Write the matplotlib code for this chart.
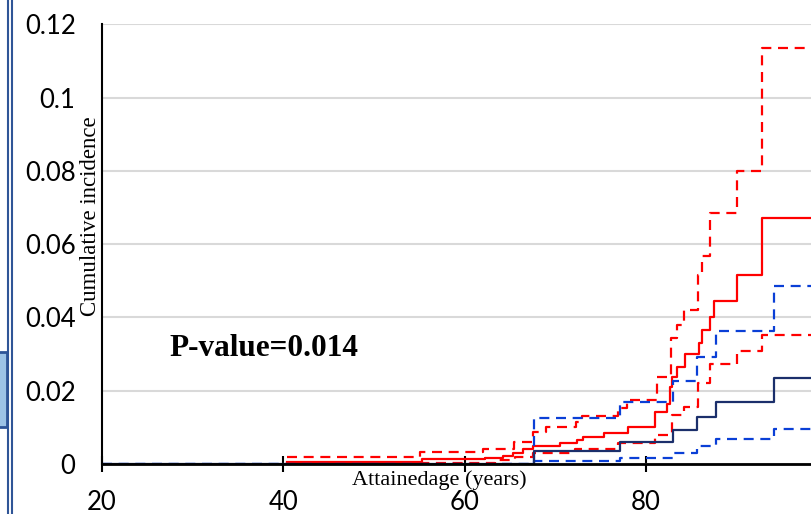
import matplotlib.pyplot as plt
from matplotlib.lines import Line2D
from matplotlib.patches import Rectangle

# red group: estimate and 95% limits
red_age = [40.4, 55.3, 62.25, 64.2, 65.3, 66.45, 67.55, 70.5, 72.4, 73.06, 75.4, 78.0,
           81.0, 82.3, 82.7, 82.9, 83.4, 84.3, 85.9, 86.15, 87.07, 87.55, 90.08, 92.77]
red_est = [0.0006, 0.0013, 0.0017, 0.0022, 0.0031, 0.0040, 0.0049, 0.0056, 0.0065, 0.0074, 0.0084, 0.0100,
           0.0141, 0.0164, 0.0211, 0.0237, 0.0264, 0.0300, 0.0330, 0.0365, 0.0402, 0.0445, 0.0517, 0.0672]

red_hi_age = [40.4, 55.1, 62.0, 65.4, 67.55, 69.0, 72.3, 73.0, 76.95, 77.9, 81.2,
              82.8, 83.4, 84.2, 85.8, 86.15, 87.07, 90.08, 92.77]
red_hi = [0.0020, 0.0032, 0.0041, 0.0060, 0.0088, 0.0102, 0.0115, 0.0130, 0.0152, 0.0175, 0.0238,
          0.0343, 0.0379, 0.0420, 0.0515, 0.0568, 0.0684, 0.0800, 0.1134]

red_lo_age = [40.4, 55.2, 63.35, 65.55, 67.55, 72.2, 76.95, 81.0, 82.84, 84.2, 85.75, 87.07, 90.08, 92.77]
red_lo = [0.0, 0.0003, 0.0011, 0.0020, 0.0029, 0.0041, 0.0056, 0.0080, 0.0135, 0.0156, 0.0222,
          0.0272, 0.0308, 0.0352]

# blue group: estimate and 95% limits (same event times)
blue_age = [20, 67.66, 77.14, 82.95, 85.6, 87.73, 94.13]
blue_est = [0, 0.0035, 0.0060, 0.0093, 0.0129, 0.0170, 0.0234]
blue_hi = [0, 0.0125, 0.0168, 0.0227, 0.0293, 0.0364, 0.0486]
blue_lo = [0, 0.0008, 0.0016, 0.0030, 0.0048, 0.0067, 0.0095]

x_end = 100
red = '#FF0000'
blue = '#0A3FD6'
navy = '#1B2F6B'
dash = (0, (4.5, 3))

fig = plt.figure(figsize=(8.12, 5.14), dpi=100)
ax = fig.add_axes([102/812, 50/514, 1 - 102/812, (464 - 24.3)/514])


def stair(xs, ys, **kw):
    ax.step(list(xs) + [x_end], list(ys) + [ys[-1]], where='post', lw=1.6, **kw)


stair(blue_age, blue_lo, color=blue, ls=dash)
stair(red_age, red_est, color=red)
stair(red_hi_age, red_hi, color=red, ls=dash)
stair(red_lo_age, red_lo, color=red, ls=dash)
stair(blue_age, blue_hi, color=blue, ls=dash)
stair(blue_age, blue_est, color=navy)

ax.set_xlim(20, 20 + 710/9.065)
ax.set_ylim(0, 0.12)
ax.set_xticks([20, 40, 60, 80])
ax.set_yticks([0, 0.02, 0.04, 0.06, 0.08, 0.1, 0.12])
ax.set_yticklabels(['0', '0.02', '0.04', '0.06', '0.08', '0.1', '0.12'])
ax.grid(True, axis='y', color='#D9D9D9', lw=1.5)
ax.set_axisbelow(True)
for s in ['top', 'right']:
    ax.spines[s].set_visible(False)
ax.spines['left'].set_linewidth(1.5)
ax.spines['bottom'].set_linewidth(2)
ax.tick_params(axis='x', direction='inout', length=12, width=1.5, pad=13)
ax.tick_params(axis='y', length=0, pad=19)
for lab in ax.get_xticklabels() + ax.get_yticklabels():
    lab.set_fontfamily('Lato')
    lab.set_fontsize(18.5)

fig.text(91/812, 1 - 216/514, 'Cumulative incidence', rotation=90, ha='center', va='center',
         family='Liberation Serif', fontsize=16.5)
fig.text(439/812, 1 - 480/514, 'Attainedage (years)', ha='center', va='center',
         family='Liberation Serif', fontsize=16)
fig.text(264/812, 1 - 349/514, 'P-value=0.014', ha='center', va='center',
         family='Liberation Serif', fontsize=22.5, fontweight='bold')

# slide frame remnants at the left edge
fig.add_artist(Line2D([8/812, 8/812], [0, 1], color='#2F5597', lw=1.5))
fig.add_artist(Line2D([12.5/812, 12.5/812], [0, 1], color='#2F5597', lw=1.5))
fig.add_artist(Rectangle((-0.01, 1 - 427/514), 0.01 + 7/812, 75/514, facecolor='#9DC3E6',
                         edgecolor='#2F5597', lw=2))

fig.savefig('out.png', dpi=100)
